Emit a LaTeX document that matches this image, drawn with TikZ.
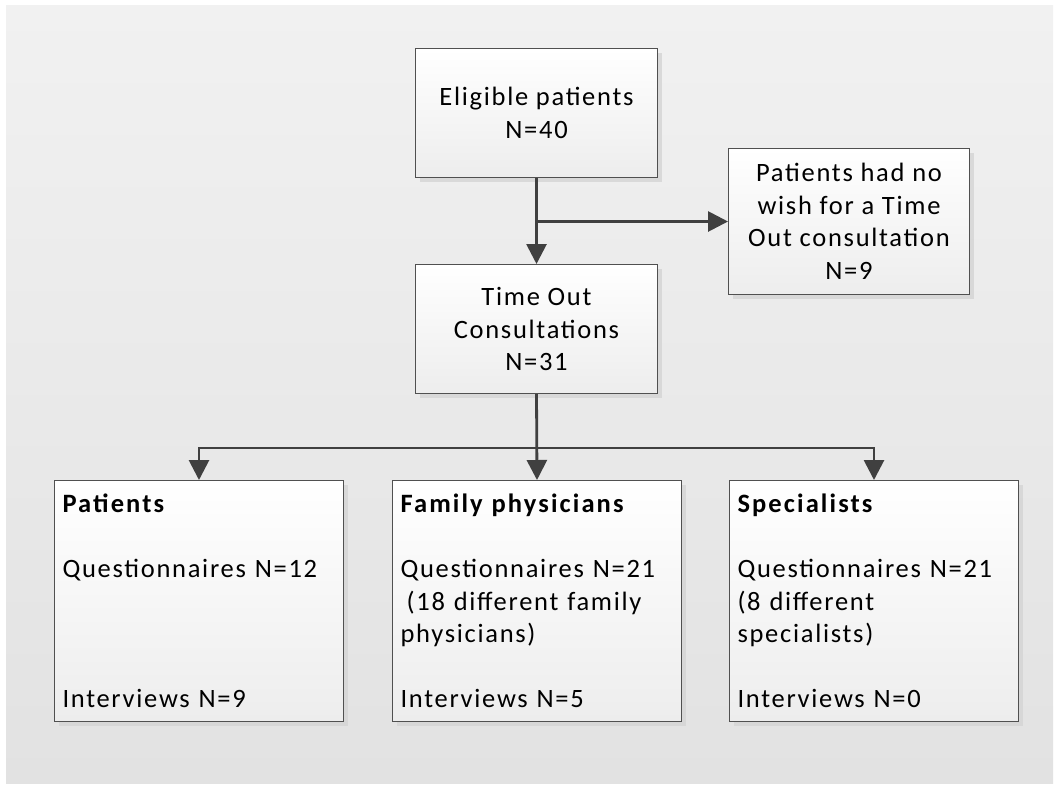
\documentclass[tikz,border=0pt]{standalone}
\usepackage{fontspec}
\setmainfont{Carlito}[LetterSpace=6.5, BoldFeatures={LetterSpace=8}]
\usetikzlibrary{arrows.meta,shadows}
\definecolor{bgtop}{HTML}{F1F1F1}
\definecolor{bgbot}{HTML}{E2E2E2}
\definecolor{linec}{HTML}{404040}
\definecolor{boxline}{HTML}{505050}
\definecolor{boxbot}{HTML}{EDEDED}
\definecolor{shadowc}{HTML}{D4D4D4}
\begin{document}
\begin{tikzpicture}[x=1pt,y=1pt,
  box/.style={draw=boxline, line width=1pt, top color=white, bottom color=boxbot,
    drop shadow={shadow xshift=4pt, shadow yshift=-4pt, fill=shadowc, opacity=0.8},
    anchor=north west, inner sep=0pt, font=\fontsize{26.5}{32.5}\selectfont},
  topbox/.style={box, align=center, minimum width=242pt},
  botbox/.style={box, align=left, inner xsep=8pt, text width=273pt, minimum width=289pt, minimum height=241pt},
  arr/.style={draw=linec, line width=2.8pt, -{Triangle[width=20pt,length=20pt]}}]
\useasboundingbox (0,0) rectangle (1059,-785);
\shade[top color=bgtop, bottom color=bgbot] (6,-5) rectangle (1053,-783);

\node[topbox, minimum height=129pt] (elig) at (415,-48) {Eligible patients\\N=40};
\node[box, align=center, minimum width=241pt, minimum height=146pt] (nowish) at (728,-148)
  {Patients had no\\wish for a Time\\Out consultation\\N=9};
\node[topbox, minimum height=129pt] (timeout) at (415,-264) {Time Out\\Consultations\\N=31};

\node[botbox] (pat) at (54,-480)
  {\textbf{Patients}\\~\\Questionnaires N=12\\~\\~\\~\\Interviews N=9};
\node[botbox] (fam) at (392,-480)
  {\textbf{Family physicians}\\~\\Questionnaires N=21\\\hspace*{0.23em}(18 different family\\physicians)\\~\\Interviews N=5};
\node[botbox] (spec) at (729,-480)
  {\textbf{Specialists}\\~\\Questionnaires N=21\\(8 different\\specialists)\\~\\Interviews N=0};

\coordinate (split) at (536,-448);
\draw[arr] (elig.south) -- (timeout.north);
\draw[arr] (elig.south |- nowish.west) -- (nowish.west);
\draw[arr] (timeout.south) -- (fam.north);
\draw[arr] (split) -| (pat.north);
\draw[arr] (split) -| (spec.north);
\end{tikzpicture}
\end{document}
